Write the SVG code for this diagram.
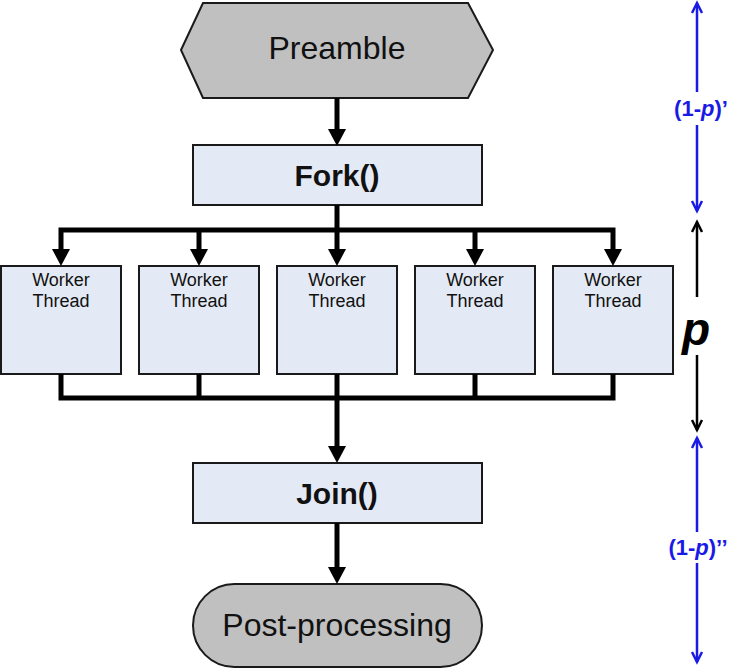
<svg xmlns="http://www.w3.org/2000/svg" width="730" height="669" viewBox="0 0 730 669">
<style>
.box{fill:#e4eaf5;stroke:#1a1a1a;stroke-width:2}
.gray{fill:#c0c0c0;stroke:#1a1a1a;stroke-width:2}
.conn{fill:none;stroke:#000;stroke-width:5}
.ah{fill:#000}
.t{font-family:"Liberation Sans",Arial,sans-serif;fill:#111;text-anchor:middle}
.w{font-size:18px}
.dimb{stroke:#1a1ae6;stroke-width:2.5;fill:none}
.dimk{stroke:#000;stroke-width:2.5;fill:none}
.lb{font-family:"Liberation Sans",Arial,sans-serif;font-weight:bold;font-size:22px;fill:#1a1ae6;text-anchor:middle}
</style>
<rect width="730" height="669" fill="#fff"/>
<g id="preamble"><polygon class="gray" points="181,50 203,3 468,3 493,50 468,98 203,98"/><text class="t" x="337" y="59" font-size="32">Preamble</text></g>
<g id="fork"><rect class="box" x="193" y="145" width="289" height="60"/><text class="t" x="337" y="186" font-size="30" font-weight="bold">Fork()</text></g>
<g id="w1"><rect class="box" x="1" y="266" width="120" height="108"/><text class="t w" x="61" y="286">Worker</text><text class="t w" x="61" y="307">Thread</text></g>
<g id="w2"><rect class="box" x="139" y="266" width="120" height="108"/><text class="t w" x="199" y="286">Worker</text><text class="t w" x="199" y="307">Thread</text></g>
<g id="w3"><rect class="box" x="277" y="266" width="120" height="108"/><text class="t w" x="337" y="286">Worker</text><text class="t w" x="337" y="307">Thread</text></g>
<g id="w4"><rect class="box" x="415" y="266" width="120" height="108"/><text class="t w" x="475" y="286">Worker</text><text class="t w" x="475" y="307">Thread</text></g>
<g id="w5"><rect class="box" x="553" y="266" width="120" height="108"/><text class="t w" x="613" y="286">Worker</text><text class="t w" x="613" y="307">Thread</text></g>
<g id="join"><rect class="box" x="193" y="463" width="289" height="60"/><text class="t" x="337" y="504" font-size="30" font-weight="bold">Join()</text></g>
<g id="post"><rect class="gray" x="193" y="584" width="289" height="83" rx="41.5"/><text class="t" x="337" y="636" font-size="32">Post-processing</text></g>
<g id="connectors">
<path class="conn" d="M337,98 V130"/><polygon class="ah" points="328,129 346,129 337,146"/>
<path class="conn" d="M337,205 V230 M61,250 V230 H613 V250 M199,230 V250 M337,230 V250 M475,230 V250"/>
<polygon class="ah" points="52,249 70,249 61,266"/>
<polygon class="ah" points="190,249 208,249 199,266"/>
<polygon class="ah" points="328,249 346,249 337,266"/>
<polygon class="ah" points="466,249 484,249 475,266"/>
<polygon class="ah" points="604,249 622,249 613,266"/>
<path class="conn" d="M61,374 V398 H613 V374 M199,374 V398 M337,374 V447 M475,374 V398"/>
<polygon class="ah" points="328,446 346,446 337,463"/>
<path class="conn" d="M337,523 V568"/><polygon class="ah" points="328,567 346,567 337,584"/>
</g>
<g id="dimensions">
<path class="dimb" d="M697,3 V92 M697,125 V211"/>
<path class="dimb" d="M692,13 L697,3 L702,13 M692,201 L697,211 L702,201"/>
<text class="lb" x="701" y="116">(1-<tspan font-style="italic">p</tspan>)’</text>
<path class="dimk" d="M697,222 V297 M697,355 V430"/>
<path class="dimk" d="M692,232 L697,222 L702,232 M692,420 L697,430 L702,420"/>
<text x="696" y="345" font-family="Liberation Sans,Arial,sans-serif" font-weight="bold" font-style="italic" font-size="46" fill="#000" text-anchor="middle">p</text>
<path class="dimb" d="M697,438 V532 M697,563 V662"/>
<path class="dimb" d="M692,448 L697,438 L702,448 M692,652 L697,662 L702,652"/>
<text class="lb" x="698" y="555">(1-<tspan font-style="italic">p</tspan>)’’</text>
</g>
</svg>
